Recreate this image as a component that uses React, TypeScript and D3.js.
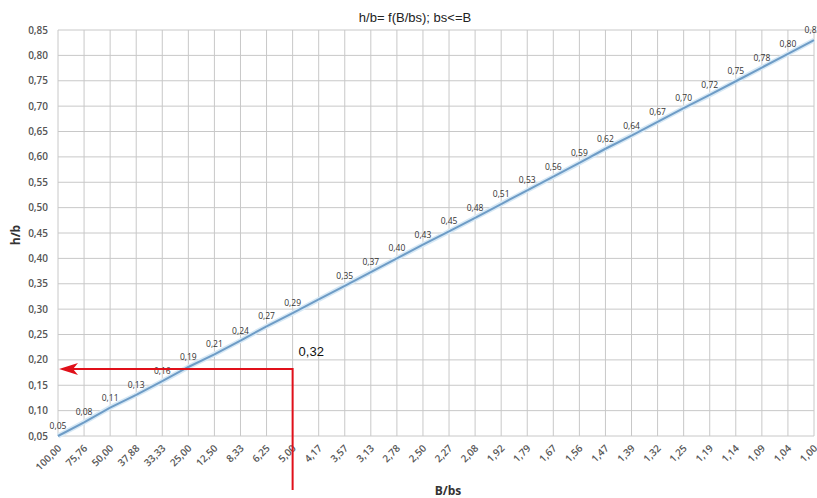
import React from "react";
import * as d3 from "d3";

const categories = ["100,00","75,76","50,00","37,88","33,33","25,00","12,50","8,33","6,25","5,00","4,17","3,57","3,13","2,78","2,50","2,27","2,08","1,92","1,79","1,67","1,56","1,47","1,39","1,32","1,25","1,19","1,14","1,09","1,04","1,00"];
const values = [0.050,0.077,0.106,0.131,0.158,0.186,0.211,0.238,0.266,0.292,0.319,0.346,0.373,0.400,0.427,0.453,0.480,0.507,0.534,0.561,0.588,0.616,0.642,0.669,0.696,0.722,0.749,0.776,0.803,0.830];
const hiddenLabels = ["4,17"];
const yTicks = [0.05,0.10,0.15,0.20,0.25,0.30,0.35,0.40,0.45,0.50,0.55,0.60,0.65,0.70,0.75,0.80,0.85];
const annotationCategory = "5,00";
const annotationValue = 0.182;
const annotationText = "0,32";
const title = "h/b= f(B/bs); bs<=B";

const fmt = (v: number) => (Math.round(v * 100) / 100).toFixed(2).replace(".", ",");

export default function App() {
  const W = 817, H = 498;
  const left = 58, right = 814, top = 30, bottom = 436;
  const x = d3.scalePoint<string>().domain(categories).range([left, right]);
  const y = d3.scaleLinear().domain([0.05, 0.85]).range([bottom, top]);
  const line = d3.line<number>().x((_, i) => x(categories[i])!).y((d) => y(d));
  const path = line(values)!;
  const ax = x(annotationCategory)!;
  const ay = y(annotationValue);
  const font = "'Liberation Sans', Arial, sans-serif";
  const lblFont = "'Open Sans', 'DejaVu Sans', sans-serif";
  return (
    <svg width={W} height={H} style={{ position: "absolute", left: 0, top: 0, background: "#fff" }}>
      <rect x={0} y={0} width={W} height={H} fill="#fff" />
      <text x={415} y={22} textAnchor="middle" fontFamily={font} fontSize={13} fill="#222">{title}</text>
      {yTicks.map((t) => (
        <line key={"h" + t} x1={left} x2={right} y1={y(t)} y2={y(t)} stroke="#c8c8c8" strokeWidth={1} />
      ))}
      {categories.map((c) => (
        <line key={"v" + c} x1={x(c)} x2={x(c)} y1={top} y2={bottom} stroke="#c8c8c8" strokeWidth={1} />
      ))}
      {yTicks.map((t) => (
        <text key={"yt" + t} x={48} y={y(t) + 3.5} textAnchor="end" fontFamily={lblFont} fontWeight={600} fontSize={10} fill="#555">{fmt(t)}</text>
      ))}
      {categories.map((c) => (
        <text key={"xt" + c} transform={`translate(${x(c)! + 4},${bottom + 13}) rotate(-45)`} textAnchor="end" fontFamily={lblFont} fontWeight={600} fontSize={10} fill="#555">{c}</text>
      ))}
      <text transform={`translate(20,235) rotate(-90)`} textAnchor="middle" fontFamily={lblFont} fontWeight={700} fontSize={12} fill="#333">h/b</text>
      <text x={448} y={495} textAnchor="middle" fontFamily={lblFont} fontWeight={700} fontSize={12} fill="#333">B/bs</text>
      <path d={path} fill="none" stroke="#d6e8f5" strokeWidth={5} />
      <path d={path} fill="none" stroke="#6e9cc6" strokeWidth={2} />
      {values.map((v, i) =>
        hiddenLabels.includes(categories[i]) ? null : (
          <text key={"dl" + i} x={x(categories[i])! + (i === values.length - 1 ? -1 : 0)} y={y(v) - 7} textAnchor="middle" fontFamily={lblFont} fontSize={8.5} fill="#333">{fmt(v)}</text>
        )
      )}
      <polyline points={`${ax},490 ${ax},${ay} ${left + 14},${ay}`} fill="none" stroke="#e0101a" strokeWidth={2} />
      <path d={`M${left + 1},${ay} L${left + 20},${ay - 6} L${left + 15},${ay} L${left + 20},${ay + 6} Z`} fill="#e0101a" />
      <text x={ax + 6} y={356} fontFamily={font} fontSize={13} fill="#111">{annotationText}</text>
    </svg>
  );
}
